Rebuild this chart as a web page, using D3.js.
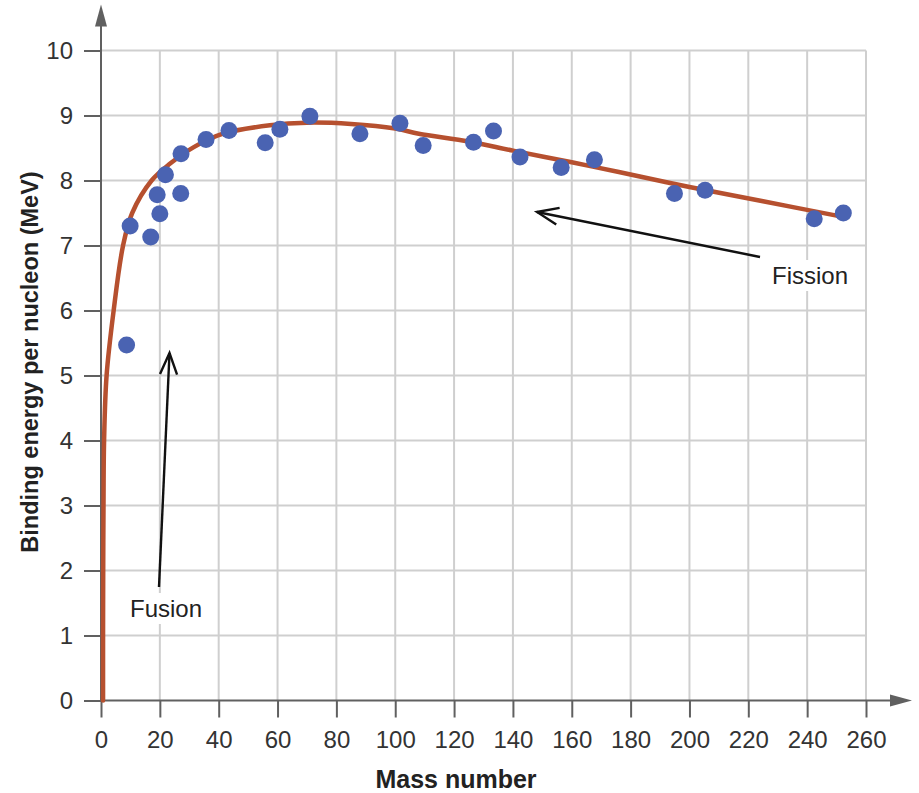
<!DOCTYPE html>
<html>
<head>
<meta charset="utf-8">
<script src="https://cdn.jsdelivr.net/npm/d3@7"></script>
<style>
  body { margin: 0; background: #fff; }
  svg { font-family: "Liberation Sans", Arial, sans-serif; }
</style>
</head>
<body>
<div id="chart"></div>
<script>
var svgWidth = 919;
var svgHeight = 793;

// measured nuclides: mass number, binding energy per nucleon (MeV)
var massNumbers = [8.7, 9.9, 16.9, 20.0, 19.1, 21.9, 27.2, 27.1, 35.7, 43.5, 55.8, 60.8, 71.0, 88.0,
                   101.6, 109.5, 126.6, 133.4, 142.4, 156.4, 167.7, 194.9, 205.3, 242.4, 252.3];
var bindingEnergies = [5.47, 7.30, 7.13, 7.49, 7.78, 8.09, 8.41, 7.80, 8.63, 8.77, 8.58, 8.79, 8.99, 8.72,
                       8.88, 8.54, 8.59, 8.76, 8.36, 8.20, 8.32, 7.80, 7.85, 7.41, 7.50];

// fitted curve
var curveA = [0.7, 0.7, 0.75, 0.85, 1.05, 1.9, 4.3, 7.5, 10.6, 17.2, 23.5, 31.4, 41.5, 57.4, 70, 85,
              100, 108, 125, 140, 160, 176, 200, 225, 250];
var curveE = [0, 1, 2, 3, 4, 5, 6, 7, 7.5, 8.0, 8.26, 8.51, 8.72, 8.85, 8.89, 8.87,
              8.8, 8.72, 8.6, 8.46, 8.28, 8.13, 7.9, 7.68, 7.46];

var xTicks = d3.range(0, 261, 20);
var yTicks = d3.range(0, 11, 1);

var margin = { top: 50.5, right: 53, bottom: 92.5, left: 101 };
var width = svgWidth - margin.left - margin.right;
var height = svgHeight - margin.top - margin.bottom;

var svg = d3.select("#chart").append("svg")
    .attr("width", svgWidth)
    .attr("height", svgHeight);

var chart = svg.append("g").attr("transform", `translate(${margin.left}, ${margin.top})`);

var xScale = d3.scaleLinear().domain([0, 260]).range([0, width]);
var yScale = d3.scaleLinear().domain([0, 10]).range([height, 0]);

var gridColor = "#cfcfcf";
var axisColor = "#606060";

// grid
chart.append("g").selectAll("line").data(xTicks.slice(1)).join("line")
    .attr("x1", d => xScale(d)).attr("x2", d => xScale(d))
    .attr("y1", yScale(10)).attr("y2", yScale(0))
    .attr("stroke", gridColor).attr("stroke-width", 2);
chart.append("g").selectAll("line").data(yTicks.slice(1)).join("line")
    .attr("x1", xScale(0)).attr("x2", xScale(260))
    .attr("y1", d => yScale(d)).attr("y2", d => yScale(d))
    .attr("stroke", gridColor).attr("stroke-width", 2);

// axes
var xAxis = d3.axisBottom(xScale).tickValues(xTicks).tickSize(17).tickSizeOuter(0).tickPadding(13);
var yAxis = d3.axisLeft(yScale).tickValues(yTicks).tickSize(17).tickSizeOuter(0).tickPadding(11);

var gx = chart.append("g").attr("transform", `translate(0, ${height})`).call(xAxis);
var gy = chart.append("g").call(yAxis);
[gx, gy].forEach(function(g) {
    g.select(".domain").remove();
    g.selectAll(".tick line").attr("stroke", axisColor).attr("stroke-width", 2);
    g.selectAll(".tick text").attr("fill", "#333").style("font-size", "24px")
      .style("font-family", "'Liberation Sans', Arial, sans-serif");
});

// axis lines with arrowheads
chart.append("line")
    .attr("x1", 0).attr("x2", 0).attr("y1", height).attr("y2", -30)
    .attr("stroke", axisColor).attr("stroke-width", 2);
chart.append("path")
    .attr("d", "M-6,-24 L0,-46 L6,-24 Z")
    .attr("fill", axisColor);
chart.append("line")
    .attr("x1", 0).attr("x2", width + 30).attr("y1", height).attr("y2", height)
    .attr("stroke", axisColor).attr("stroke-width", 2);
chart.append("path")
    .attr("d", `M${width + 24},${height - 6} L${width + 46},${height} L${width + 24},${height + 6} Z`)
    .attr("fill", axisColor);

// curve
var curvePts = curveA.map((a, i) => [a, curveE[i]]);
var line = d3.line()
    .x(d => xScale(d[0]))
    .y(d => yScale(d[1]))
    .curve(d3.curveCatmullRom.alpha(0.5));
chart.append("path")
    .datum(curvePts)
    .attr("d", line)
    .attr("fill", "none")
    .attr("stroke", "#b6502f")
    .attr("stroke-width", 4.5)
    .attr("stroke-linecap", "round");

// points
chart.append("g").selectAll("circle").data(massNumbers).join("circle")
    .attr("cx", d => xScale(d))
    .attr("cy", (d, i) => yScale(bindingEnergies[i]))
    .attr("r", 8.5)
    .attr("fill", "#4a63b2");

// annotations
function arrow(x1, y1, x2, y2) {
    var g = svg.append("g").attr("stroke", "#111").attr("stroke-width", 2.4).attr("fill", "none");
    g.append("line").attr("x1", x1).attr("y1", y1).attr("x2", x2).attr("y2", y2);
    var ang = Math.atan2(y2 - y1, x2 - x1);
    var len = 23, spread = 0.38;
    var p1 = [x2 - len * Math.cos(ang - spread), y2 - len * Math.sin(ang - spread)];
    var p2 = [x2 - len * Math.cos(ang + spread), y2 - len * Math.sin(ang + spread)];
    g.append("path").attr("d", `M${p1[0]},${p1[1]} L${x2},${y2} L${p2[0]},${p2[1]}`)
      .attr("stroke-linejoin", "miter");
}

function label(txt, x, y) {
    var g = svg.append("g");
    var bg = g.append("rect").attr("fill", "#fff");
    var t = g.append("text").attr("x", x).attr("y", y).text(txt)
        .attr("fill", "#222").style("font-size", "24px");
    var bb = t.node().getBBox();
    bg.attr("x", bb.x - 3).attr("y", bb.y - 2)
      .attr("width", bb.width + 6).attr("height", bb.height + 4);
}

arrow(159, 587, 169.5, 353);
label("Fusion", 130, 617);
arrow(760, 257, 537, 212);
label("Fission", 772, 284);

// axis titles
svg.append("text")
    .attr("x", 456).attr("y", 788)
    .attr("text-anchor", "middle")
    .attr("fill", "#222")
    .style("font-size", "25px").style("font-weight", "bold")
    .text("Mass number");
svg.append("text")
    .attr("transform", "translate(38, 362) rotate(-90)")
    .attr("text-anchor", "middle")
    .attr("fill", "#222")
    .style("font-size", "23.5px").style("font-weight", "bold")
    .text("Binding energy per nucleon (MeV)");
</script>
</body>
</html>
